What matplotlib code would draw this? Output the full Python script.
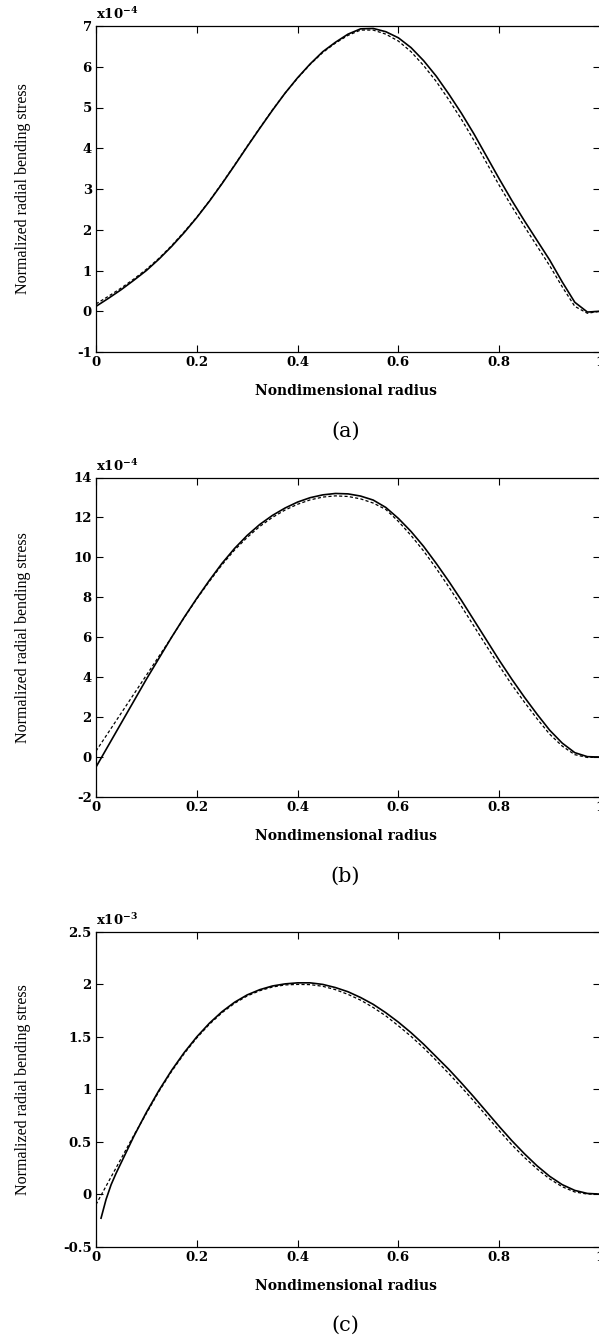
import numpy as np
import matplotlib
matplotlib.use("Agg")
from matplotlib import pyplot as plt

plt.rcParams["mathtext.fontset"] = "dejavuserif"

# radius grid used for panels (a), (b) and the dashed curve of (c)
xg = [0, 0.025, 0.05, 0.075, 0.1, 0.125, 0.15, 0.175, 0.2, 0.225, 0.25, 0.275, 0.3, 0.325,
      0.35, 0.375, 0.4, 0.425, 0.45, 0.475, 0.5, 0.525, 0.55, 0.575, 0.6, 0.625, 0.65, 0.675,
      0.7, 0.725, 0.75, 0.775, 0.8, 0.825, 0.85, 0.875, 0.9, 0.925, 0.95, 0.975, 1.0]

# panel (a), units of 1e-4
ya_solid = [0.12, 0.32, 0.53, 0.76, 1.0, 1.28, 1.59, 1.93, 2.3, 2.7, 3.13, 3.58, 4.04, 4.49,
            4.93, 5.35, 5.73, 6.07, 6.37, 6.6, 6.8, 6.93, 6.94, 6.86, 6.71, 6.47, 6.15, 5.77,
            5.33, 4.86, 4.35, 3.8, 3.25, 2.72, 2.22, 1.74, 1.26, 0.72, 0.22, -0.02, 0.0]
ya_dash = [0.18, 0.37, 0.57, 0.79, 1.03, 1.3, 1.61, 1.95, 2.31, 2.71, 3.14, 3.59, 4.05, 4.5,
           4.94, 5.35, 5.72, 6.06, 6.35, 6.58, 6.77, 6.9, 6.9, 6.8, 6.63, 6.37, 6.03, 5.64,
           5.19, 4.71, 4.19, 3.64, 3.09, 2.57, 2.08, 1.6, 1.12, 0.6, 0.12, -0.05, 0.0]

# panel (b), units of 1e-4
yb_solid = [-0.5, 0.6, 1.7, 2.8, 3.9, 4.95, 6.0, 7.0, 7.95, 8.85, 9.7, 10.45, 11.1, 11.65,
            12.1, 12.47, 12.77, 12.99, 13.13, 13.2, 13.18, 13.07, 12.87, 12.5, 11.95, 11.3,
            10.55, 9.7, 8.8, 7.85, 6.85, 5.85, 4.85, 3.9, 3.0, 2.15, 1.35, 0.7, 0.22, 0.02, 0.0]
yb_dash = [0.3, 1.25, 2.2, 3.15, 4.1, 5.05, 6.0, 6.98, 7.92, 8.8, 9.63, 10.37, 11.0, 11.55,
           12.0, 12.37, 12.66, 12.88, 13.02, 13.08, 13.05, 12.93, 12.72, 12.4, 11.8, 11.1,
           10.32, 9.45, 8.52, 7.55, 6.55, 5.55, 4.57, 3.62, 2.75, 1.92, 1.15, 0.55, 0.12, -0.02, 0.0]

# panel (c), units of 1e-3
xc_solid = [0.01, 0.02, 0.03, 0.04, 0.05, 0.075, 0.1, 0.125, 0.15, 0.175, 0.2, 0.225, 0.25,
            0.275, 0.3, 0.325, 0.35, 0.375, 0.4, 0.425, 0.45, 0.475, 0.5, 0.525, 0.55, 0.575,
            0.6, 0.625, 0.65, 0.675, 0.7, 0.725, 0.75, 0.775, 0.8, 0.825, 0.85, 0.875, 0.9,
            0.925, 0.95, 0.975, 1.0]
yc_solid = [-0.23, -0.05, 0.09, 0.2, 0.3, 0.55, 0.78, 0.99, 1.18, 1.35, 1.5, 1.63, 1.74,
            1.83, 1.9, 1.95, 1.985, 2.005, 2.015, 2.015, 2.0, 1.97, 1.93, 1.875, 1.81, 1.73,
            1.64, 1.54, 1.43, 1.31, 1.19, 1.06, 0.925, 0.785, 0.645, 0.51, 0.385, 0.27, 0.17,
            0.09, 0.035, 0.006, 0.0]
yc_dash = [-0.1, 0.12, 0.34, 0.56, 0.77, 0.98, 1.17, 1.34, 1.49, 1.62, 1.73, 1.82, 1.89,
           1.94, 1.975, 1.995, 2.0, 1.998, 1.982, 1.95, 1.905, 1.85, 1.78, 1.7, 1.605, 1.505,
           1.395, 1.275, 1.15, 1.02, 0.885, 0.745, 0.605, 0.47, 0.35, 0.24, 0.145, 0.07,
           0.02, 0.0, 0.0]

panels = [
    (xg, ya_solid, xg, ya_dash, (-1, 7), [-1, 0, 1, 2, 3, 4, 5, 6, 7], "4", "(a)"),
    (xg, yb_solid, xg, yb_dash, (-2, 14), [-2, 0, 2, 4, 6, 8, 10, 12, 14], "4", "(b)"),
    (xc_solid, yc_solid, xg, yc_dash, (-0.5, 2.5), [-0.5, 0, 0.5, 1, 1.5, 2, 2.5], "3", "(c)"),
]
ytick_text = [
    ["-1", "0", "1", "2", "3", "4", "5", "6", "7"],
    ["-2", "0", "2", "4", "6", "8", "10", "12", "14"],
    ["-0.5", "0", "0.5", "1", "1.5", "2", "2.5"],
]
xticks = [0, 0.2, 0.4, 0.6, 0.8, 1.0]
xtick_text = ["0", "0.2", "0.4", "0.6", "0.8", "1"]

W, H = 599, 1339
fig = plt.figure(figsize=(W / 100, H / 100), dpi=100)
boxes = [(26, 352), (477.5, 797), (932, 1246.5)]
left, right = 96, 600

tickfont = dict(family="DejaVu Serif", weight="bold", size=9.5)

for i, (xs, ys, xd, yd, ylim, yt, expo, cap) in enumerate(panels):
    top, bot = boxes[i]
    ax = fig.add_axes([left / W, 1 - bot / H, (right - left) / W, (bot - top) / H])
    ax.plot(xs, ys, color="black", lw=1.2)
    ax.plot(xd, yd, color="black", lw=0.9, dashes=(2.5, 1.8))
    ax.set_xlim(0, 1)
    ax.set_ylim(*ylim)
    ax.set_xticks(xticks)
    ax.set_xticklabels(xtick_text, fontdict=tickfont)
    ax.set_yticks(yt)
    ax.set_yticklabels(ytick_text[i], fontdict=tickfont)
    ax.tick_params(direction="in", length=5, width=0.8, top=True, right=True, pad=3)
    for s in ax.spines.values():
        s.set_linewidth(0.9)

    mid = (top + bot) / 2
    fig.text(23 / W, 1 - mid / H, "Normalized radial bending stress", rotation=90,
             ha="center", va="center", family="Liberation Serif", fontsize=11.5)
    fig.text(0.5 * (left + right) / W - 0.004, 1 - (bot + 39) / H, "Nondimensional radius",
             ha="center", va="center", family="DejaVu Serif", weight="bold", fontsize=10)
    fig.text(0.5 * (left + right) / W - 0.004, 1 - (bot + 79) / H, cap,
             ha="center", va="center", family="DejaVu Serif", fontsize=15)
    ax.text(0.0, 1.012, r"x10$^{\mathbf{-" + expo + "}}$", transform=ax.transAxes,
            ha="left", va="bottom", family="DejaVu Serif", weight="bold", fontsize=9.5)

fig.savefig("out.png", dpi=100)
